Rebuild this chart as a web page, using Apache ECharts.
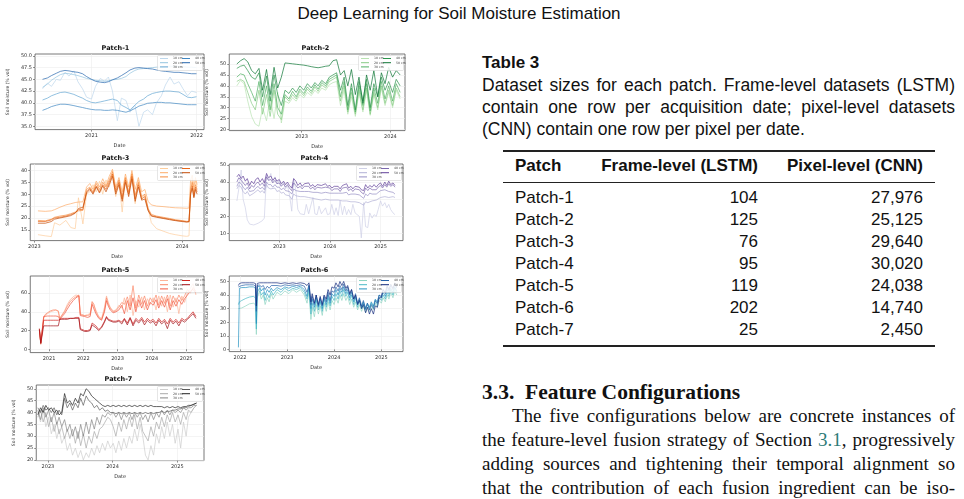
<!DOCTYPE html>
<html>
<head>
<meta charset="utf-8">
<script src="https://cdn.jsdelivr.net/npm/echarts@6/dist/echarts.min.js"></script>
<style>
  html, body { margin: 0; padding: 0; background: #fff; }
  #page { position: relative; width: 964px; height: 499px; overflow: hidden; background: #fff; }
  .panel { position: absolute; }
  .doc-title { position: absolute; left: 0; width: 918px; top: 4px; text-align: center; font: 17px "Liberation Sans", sans-serif; color: #111; line-height: 20px; }
  .tbl-label { position: absolute; left: 482px; top: 53px; font: bold 17px "Liberation Sans", sans-serif; line-height: 20px; color: #111; }
  .caption { position: absolute; left: 482px; top: 74px; width: 473px; font: 17.5px "Liberation Sans", sans-serif; line-height: 22px; color: #111; }
  .jl { text-align: justify; text-align-last: justify; }
  .rule { position: absolute; left: 503px; width: 432px; background: #222; }
  .trow { position: absolute; left: 503px; width: 432px; height: 20px; line-height: 20px; font: 17px "Liberation Sans", sans-serif; color: #111; }
  .trow span { position: absolute; white-space: nowrap; }
  .trow .c1 { left: 12px; }
  .trow .c2 { right: 177px; }
  .trow .c3 { right: 12px; }
  .trow.head { font-weight: bold; }
  .sec-head { position: absolute; left: 482px; top: 380px; font: bold 21.5px "Liberation Serif", serif; line-height: 24px; color: #111; }
  .para { position: absolute; left: 482px; top: 404px; width: 473px; font: 19px "Liberation Serif", serif; line-height: 24px; color: #111; }
  .para .first { text-indent: 30px; }
  .ref { color: #2e7b78; }
</style>
</head>
<body>
<div id="page">
  <div class="doc-title">Deep Learning for Soil Moisture Estimation</div>

  <div id="patch1" class="panel"></div>
  <div id="patch2" class="panel"></div>
  <div id="patch3" class="panel"></div>
  <div id="patch4" class="panel"></div>
  <div id="patch5" class="panel"></div>
  <div id="patch6" class="panel"></div>
  <div id="patch7" class="panel"></div>

  <div class="tbl-label">Table 3</div>
  <div class="caption">
    <div class="jl">Dataset sizes for each patch. Frame-level datasets (LSTM)</div>
    <div class="jl">contain one row per acquisition date; pixel-level datasets</div>
    <div>(CNN) contain one row per pixel per date.</div>
  </div>
  <div id="table"></div>

  <div class="sec-head">3.3.&nbsp; Feature Configurations</div>
  <div class="para">
    <div class="jl first">The five configurations below are concrete instances of</div>
    <div class="jl">the feature-level fusion strategy of Section <span class="ref">3.1</span>, progressively</div>
    <div class="jl">adding sources and tightening their temporal alignment so</div>
    <div class="jl">that the contribution of each fusion ingredient can be iso-</div>
  </div>
</div>

<script>
// ---- table 3 ----
var patchNames = ['Patch-1', 'Patch-2', 'Patch-3', 'Patch-4', 'Patch-5', 'Patch-6', 'Patch-7'];
var frameCounts = [104, 125, 76, 95, 119, 202, 25];
var pixelCounts = [27976, 25125, 29640, 30020, 24038, 14740, 2450];

// ---- depth names (legend) ----
var depthNames = ['10 cm', '20 cm', '30 cm', '40 cm', '50 cm'];

// ---- Patch-1 ----
var p1Dates = ['2020-07-15','2020-08-01','2020-08-15','2020-09-01','2020-09-15','2020-10-01','2020-10-15','2020-11-01','2020-11-15','2020-12-01',
  '2020-12-15','2021-01-01','2021-01-15','2021-02-01','2021-02-15','2021-03-01','2021-03-15','2021-04-01','2021-04-15','2021-05-01',
  '2021-05-15','2021-06-01','2021-06-15','2021-07-01','2021-07-15','2021-08-01','2021-08-15','2021-09-01','2021-09-15','2021-10-01',
  '2021-10-15','2021-11-01','2021-11-15','2021-12-01','2021-12-15','2022-01-01'];
var p1_10 = [43.0,44.2,43.5,45.0,44.8,46.5,45.7,46.8,44.5,43.0, 41.2,40.8,43.5,45.2,44.6,45.5,42.5,36.2,41.0,40.5, 38.0,39.5,35.0,38.0,38.5,37.5,40.0,41.5,43.8,45.5, 44.0,44.5,43.0,41.5,42.5,42.2];
var p1_20 = [43.3,44.0,44.8,45.5,46.0,46.3,46.2,46.0,45.8,45.5, 45.2,45.0,44.8,44.7,44.6,44.7,44.9,45.0,45.2,45.6, 46.3,46.9,47.2,47.3,47.4,47.5,47.6,47.6,47.7,47.8, 47.8,47.7,47.7,47.6,47.6,47.5];
var p1_30 = [40.6,41.0,41.5,41.9,42.2,42.3,42.1,41.8,41.4,41.0, 40.5,40.1,40.0,40.2,40.4,40.6,40.8,40.5,39.5,39.0, 38.5,39.5,40.3,40.8,41.5,42.0,42.2,42.4,42.5,42.5, 42.4,42.3,41.8,41.2,41.1,41.3];
var p1_40 = [38.4,38.8,39.2,39.5,39.7,39.7,39.6,39.4,39.2,39.0, 38.8,38.6,38.5,38.5,38.4,38.4,38.5,38.4,38.2,38.0, 38.3,38.8,39.3,39.6,39.9,40.0,40.1,40.1,40.0,40.0, 39.9,39.8,39.7,39.6,39.6,39.6];
var p1_50 = [45.0,45.3,45.8,46.3,46.7,46.9,46.8,46.6,46.5,46.2, 45.6,45.0,44.6,44.4,44.3,44.5,44.9,45.3,45.8,46.4, 47.0,47.4,47.5,47.4,47.3,47.2,47.0,46.8,46.7,46.6, 46.5,46.5,46.4,46.3,46.2,46.2];

// ---- Patch-2 ----
var p2Dates = ['2022-04-10','2022-04-25','2022-05-10','2022-05-25','2022-06-10','2022-06-25','2022-07-10','2022-07-25','2022-08-10','2022-08-25',
  '2022-09-10','2022-09-25','2022-10-10','2022-10-25','2022-11-10','2022-11-25','2022-12-10','2022-12-25','2023-01-10','2023-01-25',
  '2023-02-10','2023-02-25','2023-03-10','2023-03-25','2023-04-10','2023-04-25','2023-05-10','2023-05-25','2023-06-10','2023-06-25',
  '2023-07-10','2023-07-25','2023-08-10','2023-08-25','2023-09-10','2023-09-25','2023-10-10','2023-10-25','2023-11-10','2023-11-25',
  '2023-12-10','2023-12-25','2024-01-10','2024-01-25','2024-02-10'];
var p2_10 = [40.0,42.5,41.0,33.0,26.0,22.5,21.5,30.0,24.0,35.0, 25.0,37.0,23.0,33.0,32.0,34.5,33.0,36.0,34.5,37.0, 35.5,38.0,36.5,39.0,38.0,40.5,41.5,42.0,31.0,38.0, 27.0,35.0,26.0,37.0,28.0,38.0,26.5,36.0,29.0,39.0, 31.0,37.0,30.0,38.0,34.0];
var p2_20 = [42.0,43.0,42.0,37.0,32.0,29.0,38.0,27.0,36.0,26.0, 38.0,27.0,24.5,35.0,33.0,36.0,34.0,37.5,35.5,38.5, 36.5,39.5,37.5,40.5,39.0,42.0,43.0,44.0,33.0,40.0, 28.0,37.0,27.0,38.0,29.0,39.0,27.0,37.0,30.0,40.0, 32.0,38.0,31.0,39.0,35.0];
var p2_30 = [44.0,45.5,45.0,41.0,37.0,33.0,42.0,31.0,40.0,29.0, 41.0,30.0,27.0,36.0,34.0,37.5,35.0,38.5,36.5,39.5, 37.5,40.5,38.5,41.5,40.0,43.0,44.0,45.0,35.0,42.0, 29.0,39.0,28.0,40.0,31.0,41.0,28.5,39.0,32.0,42.0, 34.0,40.0,33.0,41.0,37.0];
var p2_40 = [48.0,49.0,49.5,47.0,44.0,43.0,46.0,35.0,44.5,33.0, 45.0,36.0,31.0,38.0,36.5,39.0,37.0,40.0,38.0,41.0, 39.0,41.5,40.0,42.5,41.0,44.0,45.0,46.0,38.0,44.0, 31.0,41.0,29.0,42.0,33.0,43.0,30.0,41.0,35.0,44.0, 38.0,42.0,37.0,43.0,40.0];
var p2_50 = [50.0,51.5,52.5,51.0,47.0,45.5,48.0,38.0,47.5,36.0, 48.5,39.0,44.0,50.5,50.3,50.1,49.9,49.7,49.5,49.2, 48.8,48.5,48.3,48.6,49.0,49.2,51.5,52.0,45.0,47.0, 40.0,47.5,36.0,44.0,32.0,45.0,38.0,47.0,35.0,46.0, 41.0,48.5,44.0,47.0,45.0];

// ---- Patch-3 ----
var p3Dates = ['2023-01-10','2023-01-28','2023-02-12','2023-02-20','2023-03-05','2023-03-20','2023-04-01','2023-04-12','2023-04-20','2023-05-01',
  '2023-05-10','2023-05-18','2023-05-26','2023-06-03','2023-06-11','2023-06-19','2023-06-27','2023-07-05','2023-07-13','2023-07-21',
  '2023-07-29','2023-08-06','2023-08-14','2023-08-22','2023-08-30','2023-09-07','2023-09-15','2023-09-23','2023-10-01','2023-10-09',
  '2023-10-17','2023-10-30','2023-11-15','2023-12-01','2023-12-15','2024-01-01','2024-01-12','2024-01-18','2024-01-22','2024-01-26',
  '2024-01-30','2024-02-03','2024-02-07'];
var p3_10 = [13.0,12.5,12.2,18.0,17.0,19.0,16.0,15.5,28.5,17.5, 30.0,31.0,34.0,31.0,35.5,30.0,36.0,33.0,38.5,29.0, 35.0,22.5,37.0,30.0,39.0,26.0,36.0,28.0,30.0,24.0, 18.0,15.5,14.5,13.5,13.0,12.5,12.3,12.5,33.0,36.5, 31.0,35.5,33.0];
var p3_20 = [23.0,22.8,23.0,23.5,24.5,25.5,26.0,26.5,26.7,26.8, 33.0,34.5,32.0,35.5,33.0,36.5,33.5,37.5,40.5,33.0, 37.0,31.0,38.5,33.0,40.0,32.0,37.0,31.0,32.0,27.0, 25.5,25.0,24.8,24.5,24.3,24.2,24.1,24.2,36.0,38.0, 33.0,37.0,34.0];
var p3_30 = [19.0,18.8,19.5,20.3,20.8,21.2,21.8,22.5,23.0,23.2, 32.0,33.0,31.0,34.5,32.0,35.0,33.0,36.0,39.5,32.0, 36.0,29.0,37.0,31.0,38.5,29.5,35.0,29.0,30.0,24.0, 21.5,20.8,20.3,19.8,19.3,18.9,18.6,18.6,32.0,35.0, 30.0,34.0,32.0];
var p3_40 = [18.5,18.5,19.2,20.0,20.3,20.8,21.4,22.2,23.5,23.6, 31.0,32.5,30.5,33.5,31.0,34.0,32.0,35.0,38.5,31.0, 35.0,28.0,36.0,30.0,37.5,28.0,34.0,28.0,29.0,23.5, 21.0,20.5,20.0,19.5,19.0,18.7,18.4,18.5,30.5,33.5, 29.0,33.0,31.0];
var p3_50 = [17.8,17.8,18.5,19.5,20.0,20.5,21.0,22.0,24.0,24.5, 30.5,32.0,30.0,33.0,30.5,33.5,31.0,34.0,37.5,30.0, 34.0,27.0,35.0,29.0,36.5,27.0,33.0,27.5,28.0,23.0, 20.8,20.3,19.8,19.3,18.9,18.5,18.3,18.4,30.0,32.5, 28.5,32.0,30.0];

// ---- Patch-4 ----
var p4Dates = ['2022-03-01','2022-03-15','2022-04-01','2022-04-15','2022-05-01','2022-05-15','2022-06-01','2022-06-15','2022-07-01','2022-07-15',
  '2022-08-01','2022-08-15','2022-09-01','2022-09-15','2022-10-01','2022-10-15','2022-11-01','2022-11-15','2022-12-01','2022-12-15',
  '2023-01-01','2023-01-15','2023-02-01','2023-02-15','2023-03-01','2023-03-15','2023-04-01','2023-04-15','2023-05-01','2023-05-15',
  '2023-06-01','2023-06-15','2023-07-01','2023-07-15','2023-08-01','2023-08-15','2023-09-01','2023-09-15','2023-10-01','2023-10-15',
  '2023-11-01','2023-11-15','2023-12-01','2023-12-15','2024-01-01','2024-01-15','2024-02-01','2024-02-15','2024-03-01','2024-03-15',
  '2024-04-01','2024-04-15','2024-05-01','2024-05-15','2024-06-01','2024-06-15','2024-07-01','2024-07-15','2024-08-01','2024-08-15',
  '2024-09-01','2024-09-15','2024-10-01','2024-10-15','2024-11-01','2024-11-15','2024-12-01','2024-12-15','2025-01-01','2025-01-15',
  '2025-02-01','2025-02-15','2025-03-01','2025-03-15','2025-04-01','2025-04-15'];
var p4_10 = [29.0,36.0,47.0,30.0,25.0,18.0,15.5,15.0,15.0,15.5, 16.0,17.0,17.5,19.0,44.0,41.0,45.0,40.0,43.0,39.0,
  41.0,38.0,40.0,36.0,38.0,33.0,23.0,42.0,35.0,24.0, 21.5,22.0,21.0,27.0,21.5,21.0,31.0,21.5,21.0,26.0, 21.5,22.0,25.0,21.0,
  21.5,27.0,21.0,25.0,20.5,29.0,21.0,26.0,21.0,24.0, 21.0,27.0,22.0,21.0,20.0,7.5,28.0,14.0,13.5,22.0, 19.0,21.0,20.0,24.0,
  29.0,26.0,28.0,25.0,27.0,24.0,22.0,21.0];
var p4_20 = [36.0,38.0,37.0,34.5,33.0,34.5,32.0,33.0,33.5,34.5, 35.5,34.0,35.0,33.5,38.5,36.5,36.0,35.0,36.5,34.5,
  35.0,33.5,34.0,32.5,33.5,32.0,30.0,33.0,32.0,31.0, 31.5,30.5,31.5,30.5,31.0,30.0,30.5,29.5,30.0,29.5, 29.5,29.0,30.0,29.5,
  29.5,29.0,29.5,28.5,29.5,28.5,29.0,28.5,29.0,28.5, 28.5,28.0,28.5,28.0,28.0,27.5,26.5,28.5,28.0,29.0, 29.0,29.5,29.5,30.0,
  31.0,30.5,31.5,30.5,31.0,30.5,31.5,31.0];
var p4_30 = [37.5,40.0,39.0,37.0,35.5,37.0,34.5,35.5,35.0,36.5, 37.5,36.0,37.0,35.5,40.0,38.5,38.5,37.0,38.5,37.0,
  37.0,35.5,36.5,35.0,36.0,34.5,33.0,36.0,35.0,34.0, 34.5,33.5,34.5,33.5,34.5,33.5,34.0,33.0,34.0,33.0, 33.5,33.0,34.0,33.0,
  33.5,32.5,33.5,32.5,33.5,32.5,33.5,33.0,34.0,32.5, 33.0,32.5,33.0,32.5,32.5,31.5,30.5,33.0,32.0,33.5, 33.0,33.5,33.0,34.0,
  35.0,34.0,35.5,34.5,34.5,33.5,34.0,33.0];
var p4_40 = [40.0,42.5,41.0,40.0,38.0,39.5,36.0,38.0,37.0,39.0, 40.0,38.0,39.5,37.5,43.0,41.0,41.5,39.5,41.0,39.0,
  39.5,37.5,39.0,37.0,38.5,36.5,35.0,39.5,38.0,36.5, 37.5,36.0,37.5,36.5,37.5,36.0,37.0,35.5,37.0,36.0, 36.5,35.5,37.0,36.0,
  36.5,35.0,36.0,35.0,36.0,34.5,36.5,35.5,37.0,35.0, 36.0,34.5,36.0,35.0,35.5,34.0,33.0,36.5,35.0,36.5, 35.5,36.5,35.5,37.0,
  38.0,36.5,38.5,37.0,39.0,37.5,38.5,37.0];
var p4_50 = [43.0,44.5,42.0,43.5,40.5,42.0,38.0,40.5,39.0,41.5, 42.5,40.0,42.0,39.5,45.0,42.5,43.5,41.0,42.5,40.5,
  41.5,39.0,40.5,38.5,40.0,38.0,36.5,42.0,40.5,38.0, 39.5,37.5,39.0,38.0,39.5,37.5,38.5,37.0,38.5,37.5, 38.0,37.0,39.0,37.5,
  38.0,36.5,37.5,36.5,37.5,36.0,38.0,37.0,39.0,36.5, 37.5,36.0,37.5,36.5,37.0,35.5,35.0,38.5,36.5,38.0, 37.0,38.5,37.0,38.5,
  39.5,37.5,40.0,38.0,40.5,38.5,39.5,38.0];

// ---- Patch-5 ----
var p5Dates = ['2020-09-20','2020-10-05','2020-10-20','2020-11-05','2020-11-20','2020-12-15','2021-01-15','2021-02-15','2021-03-15','2021-04-10',
  '2021-04-25','2021-05-15','2021-06-15','2021-07-15','2021-08-15','2021-09-15','2021-10-15','2021-11-15','2021-11-30','2021-12-15',
  '2022-01-15','2022-02-15','2022-03-15','2022-04-05','2022-04-25','2022-05-15','2022-06-15','2022-07-15','2022-08-15','2022-09-05',
  '2022-09-25','2022-10-15','2022-11-15','2022-12-15','2023-01-15','2023-02-15','2023-03-15','2023-04-15','2023-05-15','2023-06-15',
  '2023-07-15','2023-08-15','2023-09-15','2023-10-15','2023-11-15','2023-12-15','2024-01-15','2024-02-15','2024-03-15','2024-04-15',
  '2024-05-15','2024-06-15','2024-07-15','2024-08-15','2024-09-15','2024-10-15','2024-11-15','2024-12-15','2025-01-15','2025-02-15',
  '2025-03-15','2025-04-15'];
var p5_10 = [22,5,3,33,36,38,40,41,42,40, 33,33,41,48,53,56,58,57,38,37, 36,37,38,50,49,42,35,33,45,57, 50,45,41,42,47,44,55,40,58,36, 52,45,56,42,54,48,55,42,57,46, 56,40,58,45,55,38,57,50,60,65, 70,58];
var p5_20 = [21,6,4,34,37,39,41,42,42,41, 33,34,40,46,51,54,56,58,37,36, 36,36,37,51,48,40,34,32,42,55, 48,44,40,41,45,50,48,56,46,68, 44,58,48,57,46,55,50,58,47,57, 49,58,46,57,50,58,52,57,64,60, 66,62];
var p5_30 = [20,7,5,35,35,35.5,35.5,35.5,35.5,35, 32,33,38,43,48,52,55,57,36,35, 35,34,35,48,46,38,33,31,40,52, 46,42,39,40,42,47,38,52,42,55, 40,53,44,52,42,50,47,53,44,52, 45,54,42,52,46,53,48,54,58,62, 64,60];
var p5_40 = [21,7,6,31,31,31,31,31,31,31, 32,33,33,33,33,33,34,34,22,20, 20,20,21,28,27,25,21,24,30,35, 32,31,30,30,31,29,33,28,34,27, 33,30,34,29,33,30,32,28,33,29, 32,27,33,29,32,28,33,31,33,37, 40,35];
var p5_50 = [22,6,5,25,25,25,25,25,25,25, 32,32,32,32,33,33,33,33,21,19, 19,19,20,26,25,23,20,23,29,34, 31,30,29,29,30,27,32,26,33,25, 31,28,32,26,31,28,30,25,31,27, 30,22,31,27,30,25,31,29,32,35, 38,33];

// ---- Patch-6 ----
var p6Dates = ['2021-12-20','2021-12-28','2022-01-15','2022-02-15','2022-03-15','2022-04-15','2022-05-01','2022-05-08','2022-05-15','2022-06-01',
  '2022-06-15','2022-07-01','2022-07-15','2022-08-01','2022-08-15','2022-09-01','2022-09-15','2022-10-15','2022-11-15','2022-12-15',
  '2023-01-15','2023-02-15','2023-03-15','2023-04-15','2023-05-15','2023-06-05','2023-06-20','2023-07-05','2023-07-15','2023-08-01',
  '2023-08-15','2023-09-01','2023-09-15','2023-10-01','2023-10-15','2023-11-01','2023-11-15','2023-12-01','2023-12-15','2024-01-01',
  '2024-01-15','2024-02-01','2024-02-15','2024-03-01','2024-03-15','2024-04-01','2024-04-15','2024-05-01','2024-05-15','2024-06-01',
  '2024-06-15','2024-07-01','2024-07-15','2024-08-01','2024-08-15','2024-09-01','2024-09-15','2024-10-01','2024-10-15','2024-11-01',
  '2024-11-15','2024-12-01','2024-12-15','2025-01-01','2025-01-15','2025-02-01','2025-02-15','2025-03-01','2025-03-15','2025-04-01',
  '2025-04-15','2025-05-01'];
var p6_10 = [30,31,30.5,32,33.5,34,33,11,38,43, 37,40,33,38,35,41,37,42,40,43, 41,44,42,44,40,34,42,22,31,24, 33,26,32,25,34,28,35,29,36,33, 38,34,40,36,41,36,39,33,37,31, 35,29,33,28,32,27,31,28,32,29, 34,31,36,34,38,35,40,37,42,38, 43,40];
var p6_20 = [33,35,36,37.5,38.5,39,38,15,42,45, 40,42,36,41,38,43,40,44,42,45, 43,45,44,45.5,42,37,45,26,34,28, 36,29,35,28,37,31,38,32,39,36, 41,37,43,39,44,39,42,36,40,33, 38,31,36,30,34,29,33,30,34,31, 36,33,38,36,40,37,42,39,44,40, 45,42];
var p6_30 = [1.5,45,45.5,45.5,46,46,45,19,46,46.5, 43,45,40,44,42,45,43,45.5,44,46, 45,46.5,45.5,46.5,44,39,46.5,30,37,31, 38,31,37,30,38,33,40,34,41,39, 44,40,45,42,46,41,44,38,42,35, 39,33,37,31,35,30,34,31,35,32, 37,35,40,38,42,39,44,41,45,42, 46,43];
var p6_40 = [46,47,47,47.5,47.5,47.5,46.5,28,47,47.5, 46,47,44,46.5,45,47,46,47,46.5,47.5, 47,47.5,47,47.5,46.5,42,47.5,33,39,33, 40,32,38,32,39,35,42,36,43,42, 46,43,47,44,48,43,46,40,44,37, 41,34,38,32,36,30,34,29,33,30, 36,34,40,39,44,41,46,43,47,44, 48,45];
var p6_50 = [47,48.5,49,49,49,49,48.5,32,48.5,49, 48.5,49,48.5,49,48.5,49,48.5,49,48.5,49, 48.5,49,48.5,49,48.5,47,49,35,41,34, 40,33,39,33,40,37,44,40,46,45, 49,46,50,47,50,45,47,41,44,37, 40,33,36,30,33,27,31,26,30,26, 32,31,38,38,44,42,47,44,48,45, 49,46];

// ---- Patch-7 ----
var p7Dates = ['2022-11-05','2022-11-20','2022-12-05','2022-12-20','2023-01-05','2023-01-20','2023-02-05','2023-02-20','2023-03-05','2023-03-20',
  '2023-04-05','2023-04-20','2023-05-05','2023-05-20','2023-06-05','2023-06-20','2023-07-05','2023-07-20','2023-08-05','2023-08-20',
  '2023-09-05','2023-09-20','2023-10-05','2023-10-20','2023-11-05','2023-11-20','2023-12-05','2023-12-20','2024-01-05','2024-01-20',
  '2024-02-05','2024-02-20','2024-03-05','2024-03-20','2024-04-05','2024-04-20','2024-05-05','2024-05-20','2024-06-05','2024-06-20',
  '2024-07-05','2024-07-20','2024-08-05','2024-08-20','2024-09-05','2024-09-20','2024-10-05','2024-10-20','2024-11-05','2024-11-20',
  '2024-12-05','2024-12-20','2025-01-05','2025-01-20','2025-02-05','2025-02-20','2025-03-05','2025-03-20','2025-04-05','2025-04-20'];
var p7_10 = [40,36,41,34,38,31,35,29,33,27, 30,24,27,22,25,21,24,20,23,21, 25,22,26,23,27,24,28,25,27,23, 28,24,29,25,30,27,33,28,35,30, 22,20,26,22,31,27,34,29,36,30, 35,27,33,25,36,30,38,40,42,43];
var p7_20 = [38,41,36,40,34,38,32,36,31,34, 29,33,29,33,27,32,26,31,25,30, 27,32,29,33,34,36,38,37,34,30, 36,32,37,33,38,34,39,33,38,32, 30,28,34,30,36,33,38,34,39,36, 40,36,39,35,40,37,41,40,42,43];
var p7_30 = [41,37,42,38,41,36,40,35,38,34, 37,32,35,30,34,29,35,30,36,31, 37,33,38,35,39,38,40,39,40,38, 40,37,40,38,40,37,40,38,40,37, 39,36,40,37,40,38,41,39,41,39, 41,40,41,40,42,41,42,42,43,43];
var p7_40 = [42,40,43,41,42,40,42,39,41,39, 46,42,44,41,44,42,46,43,47,45, 44,42,43,41,42,40.5,41,40,40,39.5, 40,39.5,40,39.5,40,39.5,40,39.5,40,39.5, 40,39.5,40,39.5,40,40,40.5,40,40.5,40.5, 41,41,41.5,41.5,42,42,42.5,43,43.5,44];
var p7_50 = [39,42,40,43,41,42,40,41,39,40, 48,44,45,43,46,44,48,47,50,49, 47,46,45,44,43,42.5,43,42.5,43,42.5, 43,42.5,43,42.5,43,42.5,43,42.5,43,42.5, 43,42.5,43,42.5,42.5,42.5,42.5,42,42.5,42, 42.5,42,42.5,42,42.5,42.5,43,43,43.5,44];

// ---- table markup from arrays ----
(function buildTable() {
  var host = document.getElementById('table');
  var html = '';
  html += '<div class="rule" style="top:150px;height:2px"></div>';
  html += '<div class="trow head" style="top:156px"><span class="c1">Patch</span><span class="c2">Frame-level (LSTM)</span><span class="c3">Pixel-level (CNN)</span></div>';
  html += '<div class="rule" style="top:182px;height:1px"></div>';
  for (var i = 0; i < patchNames.length; i++) {
    var top = 188 + i * 21.95;
    html += '<div class="trow" style="top:' + top + 'px"><span class="c1">' + patchNames[i] + '</span><span class="c2">' +
      frameCounts[i] + '</span><span class="c3">' + pixelCounts[i].toLocaleString('en-US') + '</span></div>';
  }
  html += '<div class="rule" style="top:345px;height:2px"></div>';
  host.innerHTML = html;
})();

// ---- charts ----
var PAD_L = 30, PAD_T = 12, PAD_R = 4, PAD_B = 16;
var FONT = 'DejaVu Sans';

function ts(s) { return new Date(s + 'T00:00:00').getTime(); }

function drawPatch(cfg) {
  var el = document.getElementById(cfg.id);
  var x0 = cfg.frame[0], y0 = cfg.frame[1], x1 = cfg.frame[2], y1 = cfg.frame[3];
  var w = x1 - x0, h = y1 - y0;
  el.style.left = (x0 - PAD_L) + 'px';
  el.style.top = (y0 - PAD_T) + 'px';
  el.style.width = (w + PAD_L + PAD_R) + 'px';
  el.style.height = (h + PAD_T + PAD_B) + 'px';

  var chart = echarts.init(el);
  var gridRight = PAD_L + w;
  var xTickVals = cfg.xTicks.map(ts);

  var series = cfg.values.map(function (vals, k) {
    return {
      name: depthNames[k],
      type: 'line',
      data: cfg.dates.map(function (d, i) { return [ts(d), vals[i]]; }),
      showSymbol: false,
      silent: true,
      lineStyle: { width: 0.7, color: cfg.colors[k] },
      itemStyle: { color: cfg.colors[k] },
      emphasis: { disabled: true },
      z: 2
    };
  });

  var legendBase = {
    orient: 'vertical',
    top: PAD_T + 3,
    itemWidth: 8,
    itemHeight: 1,
    itemGap: 1.2,
    icon: 'rect',
    padding: 0,
    selectedMode: false,
    textStyle: { fontSize: 3.2, color: '#444', fontFamily: FONT },
    z: 6
  };

  chart.setOption({
    animation: false,
    textStyle: { fontFamily: FONT },
    title: {
      text: cfg.title,
      left: PAD_L + w / 2,
      textAlign: 'center',
      top: PAD_T - 9.5,
      padding: 0,
      textStyle: { fontSize: 6.5, fontWeight: 'bold', color: '#111', fontFamily: FONT }
    },
    grid: {
      left: PAD_L, top: PAD_T, width: w, height: h,
      show: true, borderColor: '#555', borderWidth: 0.8, backgroundColor: 'transparent'
    },
    legend: [
      Object.assign({}, legendBase, { left: gridRight - 44, data: depthNames.slice(0, 3) }),
      Object.assign({}, legendBase, { left: gridRight - 22, data: depthNames.slice(3) })
    ],
    graphic: [{
      type: 'rect',
      z: 5,
      shape: { x: gridRight - 46.5, y: PAD_T + 1.5, width: 45, height: 15, r: 1 },
      style: { fill: 'rgba(255,255,255,0.85)', stroke: '#cccccc', lineWidth: 0.5 }
    }],
    xAxis: {
      type: 'value',
      min: ts(cfg.xRange[0]),
      max: ts(cfg.xRange[1]),
      name: 'Date',
      nameLocation: 'middle',
      nameGap: 8.5,
      nameTextStyle: { fontSize: 5, color: '#333' },
      axisLine: { show: false },
      axisTick: { show: true, length: 2, lineStyle: { color: '#444', width: 0.6 }, customValues: xTickVals },
      axisLabel: {
        fontSize: 5, color: '#333', margin: 3.5,
        customValues: xTickVals,
        formatter: function (v) { return String(new Date(v).getFullYear()); }
      },
      splitLine: { show: true, lineStyle: { color: '#ececec', width: 0.6 } }
    },
    yAxis: {
      type: 'value',
      min: cfg.yRange[0],
      max: cfg.yRange[1],
      name: 'Soil moisture (% vol)',
      nameLocation: 'middle',
      nameRotate: 90,
      nameGap: cfg.yNameGap,
      nameTextStyle: { fontSize: 4.5, color: '#333' },
      axisLine: { show: false },
      axisTick: { show: true, length: 2, lineStyle: { color: '#444', width: 0.6 }, customValues: cfg.yTicks },
      axisLabel: {
        fontSize: 5, color: '#333', margin: 3,
        customValues: cfg.yTicks,
        formatter: function (v) { return Number(v).toFixed(cfg.yDecimals); }
      },
      splitLine: { show: true, lineStyle: { color: '#ececec', width: 0.6 } }
    },
    series: series
  });
}

drawPatch({
  id: 'patch1', title: 'Patch-1', frame: [27, 54, 204, 137],
  yRange: [34.3, 50.4], yTicks: [35, 37.5, 40, 42.5, 45, 47.5, 50], yDecimals: 1, yNameGap: 18,
  xRange: ['2020-06-19', '2022-01-27'], xTicks: ['2021-01-01', '2022-01-01'],
  dates: p1Dates, values: [p1_10, p1_20, p1_30, p1_40, p1_50],
  colors: ['#bdd7ec', '#94c4df', '#64a6d2', '#3f86c1', '#2566ad']
});
drawPatch({
  id: 'patch2', title: 'Patch-2', frame: [226, 54, 405, 138],
  yRange: [19.5, 54.6], yTicks: [20, 25, 30, 35, 40, 45, 50], yDecimals: 0, yNameGap: 13,
  xRange: ['2022-03-10', '2024-03-01'], xTicks: ['2023-01-01', '2024-01-01'],
  dates: p2Dates, values: [p2_10, p2_20, p2_30, p2_40, p2_50],
  colors: ['#b8e2b1', '#86cb84', '#4fb062', '#2b934b', '#0c7533']
});
drawPatch({
  id: 'patch3', title: 'Patch-3', frame: [27, 164, 204, 248],
  yRange: [10.5, 42.7], yTicks: [15, 20, 25, 30, 35, 40], yDecimals: 0, yNameGap: 16,
  xRange: ['2022-12-22', '2024-02-24'], xTicks: ['2023-01-01', '2024-01-01'],
  dates: p3Dates, values: [p3_10, p3_20, p3_30, p3_40, p3_50],
  colors: ['#fdcd9c', '#fdab67', '#f68b3c', '#e5661a', '#c54c07']
});
drawPatch({
  id: 'patch4', title: 'Patch-4', frame: [226, 164, 403, 248],
  yRange: [5.9, 50.5], yTicks: [10, 20, 30, 40, 50], yDecimals: 0, yNameGap: 13,
  xRange: ['2022-01-05', '2025-06-12'], xTicks: ['2023-01-01', '2024-01-01', '2025-01-01'],
  dates: p4Dates, values: [p4_10, p4_20, p4_30, p4_40, p4_50],
  colors: ['#cfd0e6', '#b1b0d6', '#968fc4', '#7c68ae', '#62409a']
});
drawPatch({
  id: 'patch5', title: 'Patch-5', frame: [27, 276, 204, 360],
  yRange: [-3.6, 78.3], yTicks: [0, 20, 40, 60], yDecimals: 0, yNameGap: 14,
  xRange: ['2020-06-15', '2025-07-10'], xTicks: ['2021-01-01', '2022-01-01', '2023-01-01', '2024-01-01', '2025-01-01'],
  dates: p5Dates, values: [p5_10, p5_20, p5_30, p5_40, p5_50],
  colors: ['#fcb398', '#fb8767', '#f1553e', '#d0231f', '#a00e16']
});
drawPatch({
  id: 'patch6', title: 'Patch-6', frame: [226, 276, 403, 359],
  yRange: [-1.6, 54], yTicks: [0, 10, 20, 30, 40, 50], yDecimals: 0, yNameGap: 13,
  xRange: ['2021-10-10', '2025-06-18'], xTicks: ['2022-01-01', '2023-01-01', '2024-01-01', '2025-01-01'],
  dates: p6Dates, values: [p6_10, p6_20, p6_30, p6_40, p6_50],
  colors: ['#8fd4c1', '#47b8c6', '#2391c0', '#2560a8', '#12297c']
});
drawPatch({
  id: 'patch7', title: 'Patch-7', frame: [33, 385, 204, 468],
  yRange: [19.7, 51.6], yTicks: [20, 25, 30, 35, 40, 45, 50], yDecimals: 0, yNameGap: 19,
  xRange: ['2022-10-27', '2025-06-01'], xTicks: ['2023-01-01', '2024-01-01', '2025-01-01'],
  dates: p7Dates, values: [p7_10, p7_20, p7_30, p7_40, p7_50],
  colors: ['#cdcdcd', '#a9a9a9', '#858585', '#5a5a5a', '#232323']
});
</script>
</body>
</html>
